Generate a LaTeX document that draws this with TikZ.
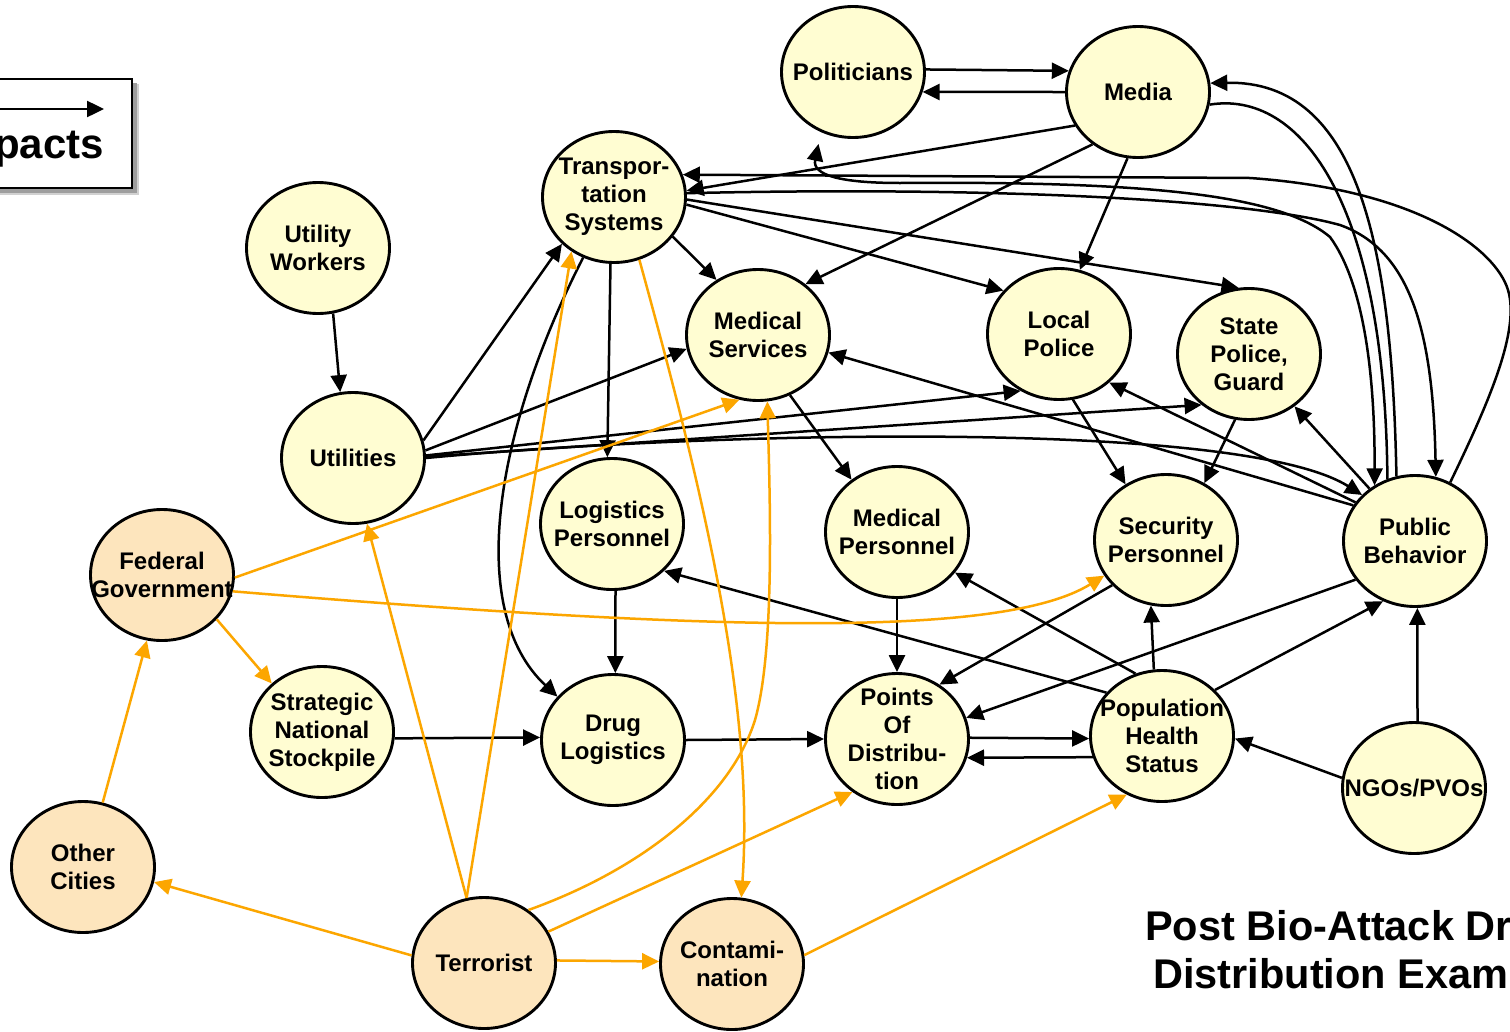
\documentclass[tikz,border=0pt]{standalone}
\usepackage{fontspec}
\setmainfont{Liberation Sans}
\usetikzlibrary{arrows.meta,shapes.geometric}

\definecolor{actorfill}{RGB}{255,253,210}
\definecolor{threatfill}{RGB}{253,229,189}
\definecolor{impactline}{RGB}{252,166,0}

\tikzset{
  actor/.style={ellipse, draw=black, line width=2.9pt, fill=actorfill,
    minimum width=143pt, minimum height=131pt, inner sep=0pt},
  threat/.style={actor, fill=threatfill},
  lbl/.style={font=\fontsize{24}{28}\selectfont\bfseries, align=center, inner sep=0pt},
  tip/.tip={Triangle[length=17pt,width=16pt]},
  link/.style={line width=2.5pt, -tip},
  twolink/.style={line width=2.5pt, tip-tip},
  plainlink/.style={line width=2.5pt},
  hazard/.style={link, draw=impactline},
  titletext/.style={font=\fontsize{41.5}{48}\selectfont\bfseries, inner sep=0pt, anchor=base west},
}

% an actor circle with its label set on top
\newcommand\actornode[4]{%
  \node[#1] (#2) at (#3) {};
  \node[lbl] (#2-txt) at (#2.center) {#4};}

\begin{document}
\begin{tikzpicture}[x=1pt,y=-1pt]
\path[use as bounding box] (0,0) rectangle (1510,1031);
\clip (0,0) rectangle (1510,1031);
\fill[white] (0,0) rectangle (1510,1031);

% legend box with its drop shadow
\fill[black!18] (-6,84) rectangle (139,195);
\fill[black!38] (-6,83) rectangle (137,193);
\node[draw=black, line width=2.6pt, fill=white, minimum width=142pt,
      minimum height=109pt, inner sep=0pt] (legend) at (61,133.5) {};
\coordinate (lgA) at (-10,109);
\coordinate (lgB) at (104,109);
\draw[link] (lgA) -- (lgB);
\node[font=\fontsize{42}{48}\selectfont\bfseries, inner sep=0pt, anchor=base west]
  (legendtext) at (-6,158) {pacts};

% actors
\actornode{actor}{pol}{853,72}{Politicians}
\actornode{actor}{med}{1138,92}{Media}
\actornode{actor}{trans}{614,197}{Transpor-\\tation\\Systems}
\actornode{actor}{uw}{318,248}{Utility\\Workers}
\actornode{actor}{ms}{758,335}{Medical\\Services}
\actornode{actor}{lp}{1059,334}{Local\\Police}
\actornode{actor}{sp}{1249,354}{State\\Police,\\Guard}
\actornode{actor}{util}{353,458}{Utilities}
\actornode{actor}{lgp}{612,524}{Logistics\\Personnel}
\actornode{actor}{mp}{897,532}{Medical\\Personnel}
\actornode{actor}{secp}{1166,540}{Security\\Personnel}
\actornode{actor}{pb}{1415,541}{Public\\Behavior}
\actornode{threat}{fg}{162,575}{Federal\\Government}
\actornode{actor}{sns}{322,732}{Strategic\\National\\Stockpile}
\actornode{actor}{dl}{613,740}{Drug\\Logistics}
\actornode{actor}{pod}{897,739}{Points\\Of\\Distribu-\\tion}
\actornode{actor}{phs}{1162,736}{Population\\Health\\Status}
\actornode{actor}{ngo}{1414,788}{NGOs/PVOs}
\actornode{threat}{oc}{83,867}{Other\\Cities}
\actornode{threat}{ter}{484,963}{Terrorist}
\actornode{threat}{con}{732,964}{Contami-\\nation}

% influences between actors
\draw[link] (pol.2) -- (med.163);
\draw[link] (med.180) -- (pol.-16);
\draw[link] (med.-152) -- (trans.5);
\draw[link] (med.-131) -- (ms.47);
\draw[link] (med.-99) -- (lp.72);
\draw[link] (trans.-34) -- (ms.127);
\draw[link] (trans.-6) -- (lp.142);
\draw[link] (trans.-2) -- (sp.99);
\draw[link] (trans.-93) -- (lgp.94);
\draw[link] (trans.-117) .. controls (495,430) and (465,610) .. (dl.142);
\draw[link] (uw.-77) -- (util.101);
\draw[link] (util.14) -- (trans.-138);
\draw[link] (util.6) -- (ms.191);
\draw[link] (util.2) -- (lp.-124);
\draw[link] (util.1) -- (sp.-133);
\draw[link] (util.0) .. controls (700,432) and (1240,418) .. (pb.139);
\draw[link] (ms.-62) -- (mp.131);
\draw[link] (lp.-78) -- (secp.126);
\draw[link] (sp.-102) -- (secp.56);
\draw[link] (pb.131) -- (sp.-49);
\draw[link] (pb.147) -- (lp.-44);
\draw[link] (pb.150) -- (ms.-14);
\draw[link] (pb.-147) -- (pod.17);
\draw[link] (mp.-90) -- (pod.90);
\draw[link] (secp.-140) -- (pod.52);
\draw[link] (lgp.-87) -- (dl.88);
\draw[link] (sns.-5) -- (dl.178);
\draw[link] (dl.0) -- (pod.180);
\draw[link] (pod.1) -- (phs.182);
\draw[link] (phs.-163) -- (pod.-15);
\draw[link] (phs.97) -- (secp.-103);
\draw[link] (phs.41) -- (pb.-118);
\draw[link] (phs.113) -- (mp.-35);
\draw[link] (phs.142) -- (lgp.-42);
\draw[link] (ngo.172) -- (phs.-2);
\draw[link] (ngo.87) -- (pb.-88);

% long loops from public behaviour
\draw[link] (pb.59) .. controls (1490,400) and (1520,330) .. (1508,290)
  .. controls (1496,250) and (1420,190) .. (1250,178) -- (trans.18);
\draw[twolink, shorten <=12pt] (pol.-118) .. controls (812,175) and (840,183) .. (900,183)
  .. controls (1150,181) and (1280,195) .. (1330,237)
  .. controls (1365,285) and (1375,380) .. (pb.126);
\draw[link] (trans.3) .. controls (1000,186) and (1250,200) .. (1340,225)
  .. controls (1410,250) and (1433,330) .. (pb.72);
\draw[link] (pb.106) .. controls (1392,250) and (1360,80) .. (med.7);
\draw[plainlink] (med.-10) .. controls (1300,90) and (1385,200) .. (pb.114);

% impacts of the attack
\draw[hazard] (fg.-2) -- (ms.-106);
\draw[hazard] (fg.-13) .. controls (700,630) and (1000,640) .. (secp.-150);
\draw[hazard] (fg.-39) -- (sns.136);
\draw[hazard] (oc.73) -- (fg.-103);
\draw[hazard] (ter.174) -- (oc.-12);
\draw[hazard] (ter.105) -- (util.-78);
\draw[hazard] (ter.105) -- (trans.-128);
\draw[hazard] (ter.50) .. controls (640,870) and (730,800) .. (755,720)
  .. controls (775,650) and (770,500) .. (ms.-82);
\draw[hazard] (ter.26) -- (pod.-130);
\draw[hazard] (ter.2) -- (con.178);
\draw[hazard] (trans.-68) .. controls (700,480) and (755,700) .. (con.82);
\draw[hazard] (con.7) -- (phs.-121);

% title
\node[titletext] (title1) at (1145,940) {Post Bio-Attack Dr};
\node[titletext] (title2) at (1153,988) {Distribution Exam};
\end{tikzpicture}
\end{document}
